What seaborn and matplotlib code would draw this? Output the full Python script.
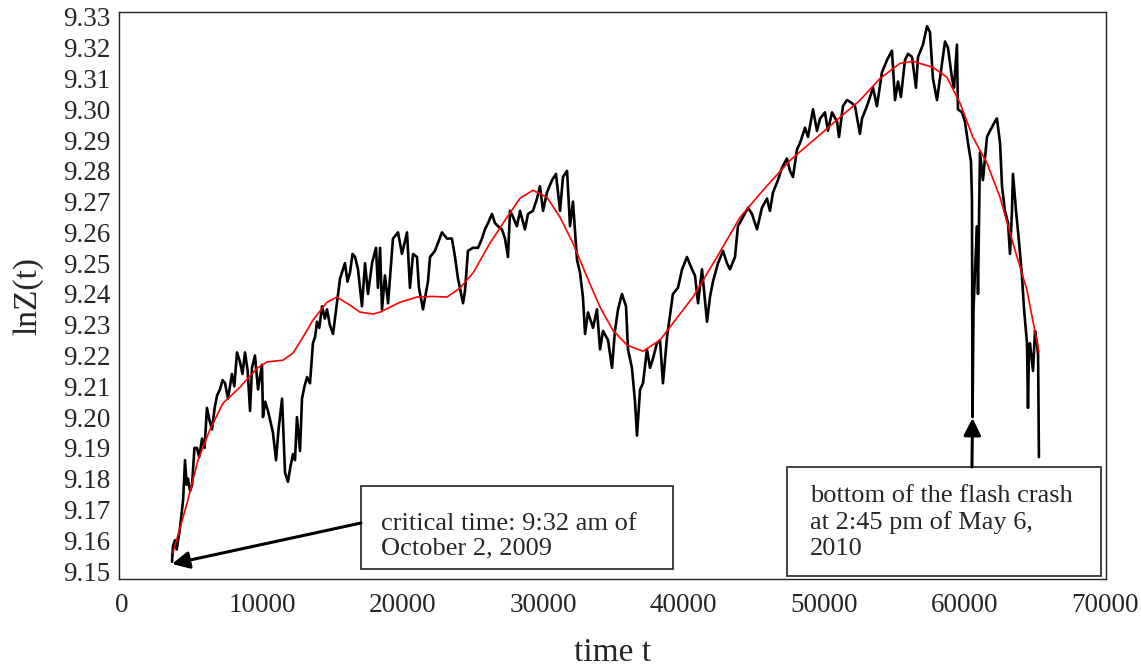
import matplotlib
matplotlib.use("Agg")
import matplotlib.pyplot as plt
from matplotlib.patches import Rectangle
import seaborn as sns
import pandas as pd

# ------------------------------------------------------------
# data
# ------------------------------------------------------------
# black line: observed ln Z(t)
t_obs = [3560, 3630, 3770, 3900, 4130, 4350, 4490, 4600, 4700, 4850,
         4990, 5160, 5340, 5500, 5700, 5880, 6050, 6230, 6410, 6600,
         6770, 6980, 7160, 7340, 7550, 7830, 8000, 8190, 8400, 8580,
         8760, 8950, 9120, 9260, 9470, 9690, 9830, 9970, 10040, 10200,
         10400, 10600, 10750, 10970, 11150, 11250, 11400, 11610, 11820, 12000,
         12180, 12320, 12460, 12680, 12820, 13000, 13180, 13390, 13600, 13750,
         13890, 14050, 14250, 14450, 14600, 14800, 15030, 15310, 15530, 15880,
         16060, 16240, 16420, 16600, 16810, 17090, 17310, 17520, 17810, 18090,
         18230, 18380, 18520, 18730, 18950, 19300, 19660, 19940, 20300, 20510,
         20730, 21010, 21150, 21440, 21790, 21940, 22290, 22790, 23150, 23500,
         23720, 23930, 24290, 24430, 24640, 25000, 25360, 25640, 25850, 26070,
         26350, 26570, 26780, 27060, 27280, 27490, 27640, 27850, 28130, 28350,
         28700, 28920, 29270, 29560, 29770, 29990, 30270, 30630, 30910, 31200,
         31410, 31700, 31910, 32120, 32410, 32620, 32830, 32980, 33190, 33550,
         33830, 34050, 34260, 34620, 34900, 35110, 35330, 35610, 35900, 36040,
         36320, 36540, 36680, 36900, 37110, 37390, 37610, 37820, 38100, 38320,
         38530, 38820, 39030, 39240, 39600, 39890, 40240, 40600, 40810, 41030,
         41310, 41670, 41880, 42090, 42450, 42810, 43090, 43300, 43660, 43870,
         44230, 44590, 44870, 45230, 45580, 45940, 46150, 46370, 46720, 47010,
         47360, 47580, 47790, 48080, 48290, 48650, 48860, 49220, 49500, 49720,
         50070, 50280, 50570, 50930, 51070, 51350, 51640, 51990, 52210, 52560,
         52710, 53060, 53280, 53490, 53770, 54130, 54490, 54840, 55060, 55270,
         55480, 55770, 55980, 56270, 56550, 56700, 57050, 57340, 57550, 57760,
         58050, 58260, 58620, 58830, 59120, 59260, 59470, 59540, 59830, 60040,
         60260, 60470, 60540, 60580, 60650, 60780, 60900, 60970, 61110, 61320,
         61610, 61820, 62180, 62320, 62540, 62680, 62890, 63110, 63250, 63390,
         63460, 63680, 63890, 64100, 64250, 64460, 64530, 64600, 64670, 64890,
         65030, 65170, 65250, 65310]
lnz_obs = [9.153, 9.158, 9.160, 9.157, 9.164, 9.173, 9.186, 9.178, 9.180, 9.176,
           9.178, 9.190, 9.190, 9.187, 9.193, 9.190, 9.203, 9.199, 9.196, 9.203,
           9.207, 9.209, 9.212, 9.211, 9.206, 9.214, 9.210, 9.221, 9.218, 9.214,
           9.221, 9.215, 9.202, 9.216, 9.220, 9.209, 9.213, 9.217, 9.200, 9.205,
           9.202, 9.198, 9.195, 9.186, 9.196, 9.200, 9.206, 9.182, 9.179, 9.184,
           9.188, 9.186, 9.200, 9.189, 9.206, 9.210, 9.213, 9.211, 9.224, 9.226,
           9.231, 9.229, 9.236, 9.232, 9.235, 9.230, 9.227, 9.237, 9.245, 9.250,
           9.244, 9.247, 9.253, 9.252, 9.248, 9.236, 9.250, 9.240, 9.250, 9.255,
           9.242, 9.255, 9.235, 9.246, 9.237, 9.258, 9.260, 9.253, 9.260, 9.242,
           9.253, 9.252, 9.242, 9.235, 9.244, 9.252, 9.254, 9.260, 9.258, 9.258,
           9.252, 9.245, 9.237, 9.241, 9.254, 9.255, 9.255, 9.258, 9.261, 9.263,
           9.266, 9.263, 9.262, 9.261, 9.258, 9.252, 9.267, 9.265, 9.262, 9.267,
           9.261, 9.266, 9.267, 9.271, 9.275, 9.267, 9.273, 9.277, 9.279, 9.267,
           9.278, 9.280, 9.262, 9.270, 9.251, 9.247, 9.239, 9.227, 9.234, 9.229,
           9.235, 9.222, 9.228, 9.225, 9.216, 9.228, 9.235, 9.240, 9.236, 9.222,
           9.216, 9.205, 9.194, 9.209, 9.211, 9.222, 9.216, 9.219, 9.224, 9.225,
           9.211, 9.226, 9.233, 9.240, 9.242, 9.248, 9.252, 9.248, 9.246, 9.237,
           9.248, 9.231, 9.239, 9.244, 9.250, 9.254, 9.250, 9.248, 9.252, 9.262,
           9.265, 9.268, 9.266, 9.261, 9.268, 9.271, 9.267, 9.273, 9.277, 9.281,
           9.284, 9.280, 9.278, 9.287, 9.289, 9.294, 9.291, 9.300, 9.293, 9.297,
           9.299, 9.293, 9.299, 9.296, 9.291, 9.301, 9.303, 9.302, 9.301, 9.292,
           9.297, 9.301, 9.304, 9.307, 9.301, 9.312, 9.316, 9.319, 9.303, 9.309,
           9.304, 9.316, 9.318, 9.317, 9.307, 9.317, 9.321, 9.327, 9.325, 9.310,
           9.303, 9.310, 9.322, 9.320, 9.310, 9.307, 9.321, 9.300, 9.299, 9.296,
           9.289, 9.283, 9.271, 9.200, 9.235, 9.250, 9.262, 9.240, 9.286, 9.277,
           9.291, 9.293, 9.296, 9.297, 9.289, 9.275, 9.267, 9.263, 9.253, 9.267,
           9.279, 9.267, 9.257, 9.246, 9.235, 9.224, 9.203, 9.222, 9.224, 9.215,
           9.228, 9.224, 9.220, 9.187]

# red line: fitted curve
t_fit = [3630, 4630, 5410, 6270, 7190, 8400, 9620, 10330, 11470, 12180,
         12890, 13600, 14600, 15300, 16200, 16950, 17880, 18380, 19800, 21010,
         22100, 23150, 24070, 25000, 26210, 27420, 28350, 29270, 30270, 31200,
         32120, 33120, 34050, 34970, 35970, 37110, 38320, 39240, 40670, 42380,
         44020, 45660, 47580, 49500, 51140, 52560, 53990, 55410, 56340, 57760,
         58760, 59690, 60610, 61610, 62540, 63460, 64460, 65310]
lnz_fit = [9.156, 9.172, 9.186, 9.196, 9.2045, 9.2097, 9.2159, 9.2179, 9.2185, 9.2208,
           9.226, 9.2315, 9.2373, 9.239, 9.2365, 9.2341, 9.2335, 9.2341, 9.2373, 9.239,
           9.2392, 9.239, 9.2419, 9.2468, 9.2565, 9.2649, 9.2711, 9.2737, 9.2714, 9.2649,
           9.2565, 9.2455, 9.2357, 9.2282, 9.2234, 9.2214, 9.225, 9.2305, 9.239, 9.252,
           9.2649, 9.2737, 9.2834, 9.2909, 9.2974, 9.3029, 9.31, 9.3149, 9.3156, 9.3136,
           9.3104, 9.302, 9.2909, 9.2825, 9.2714, 9.2565, 9.2412, 9.2211]

x_ticks = [0, 10000, 20000, 30000, 40000, 50000, 60000, 70000]
y_ticks = [9.15, 9.16, 9.17, 9.18, 9.19, 9.20, 9.21, 9.22, 9.23,
           9.24, 9.25, 9.26, 9.27, 9.28, 9.29, 9.30, 9.31, 9.32, 9.33]

critical_point = (3560, 9.1523)
crash_point = (60580, 9.1997)
critical_lines = ["critical time: 9:32 am of", "October 2, 2009"]
crash_lines = ["bottom of the flash crash", "at 2:45 pm of May 6,", "2010"]

obs = pd.DataFrame({"t": t_obs, "lnz": lnz_obs})
fit = pd.DataFrame({"t": t_fit, "lnz": lnz_fit})

# ------------------------------------------------------------
# plot
# ------------------------------------------------------------
sns.set_style("white")
plt.rcParams["font.family"] = ["Liberation Serif", "DejaVu Serif"]

fig = plt.figure(figsize=(11.41, 6.66), dpi=100)
ax = fig.add_axes([0.1043, 0.1306, 0.8650, 0.8514])

sns.lineplot(data=obs, x="t", y="lnz", color="black", linewidth=1.9,
             estimator=None, sort=False, ax=ax)
sns.lineplot(data=fit, x="t", y="lnz", color="red", linewidth=1.2,
             estimator=None, sort=False, ax=ax)

ax.set_xlim(-214, 70085)
ax.set_ylim(9.1474, 9.3316)
ax.set_xticks(x_ticks)
ax.set_xticklabels([str(v) for v in x_ticks])
ax.set_yticks(y_ticks)
ax.set_yticklabels([f"{v:.2f}" for v in y_ticks])
ax.tick_params(length=0, labelsize=19.5)
ax.tick_params(axis="x", pad=10)
ax.tick_params(axis="y", pad=6)

for side in ax.spines.values():
    side.set_color("#222222")
    side.set_linewidth(1.0)

ax.set_xlabel("time t", fontsize=24, labelpad=14)
ax.set_ylabel("lnZ(t)", fontsize=24, labelpad=14)

# annotation boxes (axes fraction)
box1 = Rectangle((0.2452, 0.0176), 0.3161, 0.1464, transform=ax.transAxes,
                 facecolor="white", edgecolor="#222222", linewidth=1.2,
                 zorder=5, clip_on=False)
ax.add_patch(box1)
for line, yb in zip(critical_lines, [0.0864, 0.0430]):
    ax.text(0.2655, yb, line, transform=ax.transAxes, fontsize=19,
            va="baseline", ha="left", zorder=6)

box2 = Rectangle((0.6768, 0.0053), 0.3181, 0.1922, transform=ax.transAxes,
                 facecolor="white", edgecolor="#222222", linewidth=1.2,
                 zorder=5, clip_on=False)
ax.add_patch(box2)
for line, yb in zip(crash_lines, [0.1358, 0.0890, 0.0423]):
    ax.text(0.7001, yb, line, transform=ax.transAxes, fontsize=19,
            va="baseline", ha="left", zorder=6)

arrow = dict(arrowstyle="-|>", color="black", lw=2.2, mutation_scale=26,
             shrinkA=0, shrinkB=0)
ax.annotate("", xy=critical_point, xycoords="data",
            xytext=(0.2452, 0.0988), textcoords="axes fraction",
            arrowprops=arrow, zorder=7)
ax.annotate("", xy=crash_point, xycoords="data",
            xytext=(0.8642, 0.1975), textcoords="axes fraction",
            arrowprops=arrow, zorder=7)

fig.savefig("out.png", dpi=100)
